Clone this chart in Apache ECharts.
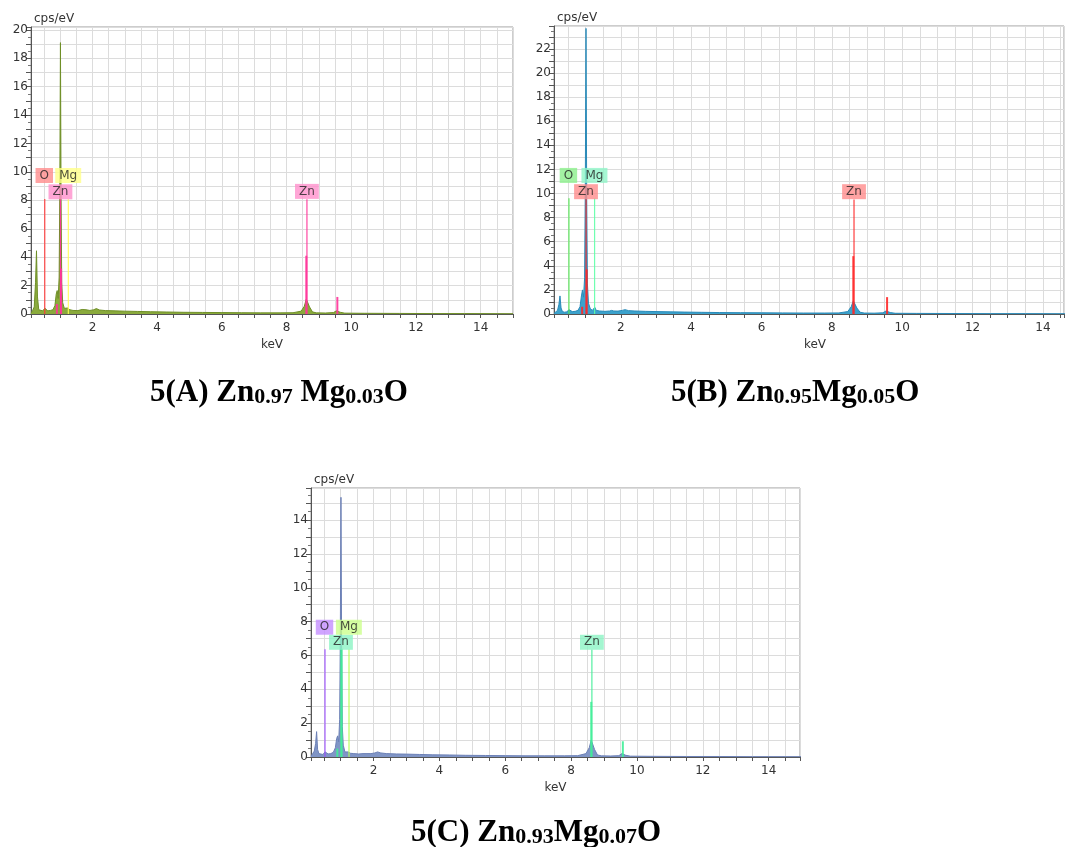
<!DOCTYPE html>
<html>
<head>
<meta charset="utf-8">
<title>EDS spectra</title>
<script src="https://cdn.jsdelivr.net/npm/echarts@6/dist/echarts.min.js"></script>
<style>
html, body { margin: 0; padding: 0; background: #fff; }
#chartmain { width: 1067px; height: 847px; }
</style>
</head>
<body>
<div id="chartmain"></div>
<script>
// energy grid shared by the three spectra (keV)
var energy = [0.10, 0.15, 0.20, 0.24, 0.27, 0.30, 0.34, 0.40, 0.46, 0.50,
	0.53, 0.56, 0.62, 0.70, 0.78, 0.84, 0.88, 0.91, 0.94, 0.97,
	0.99, 1.01, 1.03, 1.05, 1.08, 1.13, 1.19, 1.23, 1.26, 1.30,
	1.40, 1.55, 1.68, 1.74, 1.80, 1.92, 2.04, 2.12, 2.22, 2.40,
	2.70, 3.00, 3.40, 3.80, 4.30, 4.80, 5.40, 6.00, 6.60, 7.20,
	7.80, 8.20, 8.45, 8.55, 8.61, 8.65, 8.71, 8.80, 8.92, 9.20,
	9.45, 9.54, 9.59, 9.66, 9.80, 10.4, 11.5, 12.5, 13.5, 15.0];

// cps/eV
var countsA = [0.05, 0.25, 0.5, 2.2, 4.45, 1.2, 0.3, 0.2, 0.22, 0.3,
	0.4, 0.28, 0.22, 0.25, 0.3, 0.6, 1.4, 1.65, 1.1, 2.6,
	8.5, 19.1, 8.0, 2.2, 0.8, 0.4, 0.3, 0.42, 0.5, 0.3,
	0.25, 0.24, 0.32, 0.45, 0.3, 0.25, 0.3, 0.38, 0.28, 0.24,
	0.22, 0.2, 0.18, 0.16, 0.14, 0.12, 0.11, 0.1, 0.09, 0.08,
	0.08, 0.09, 0.2, 0.55, 1.05, 1.1, 0.5, 0.15, 0.08, 0.07,
	0.1, 0.22, 0.26, 0.12, 0.06, 0.05, 0.04, 0.03, 0.03, 0.02];
var countsB = [0.05, 0.2, 0.3, 0.8, 1.5, 0.5, 0.2, 0.15, 0.18, 0.25,
	0.35, 0.25, 0.2, 0.22, 0.3, 0.6, 1.5, 2.0, 1.4, 3.0,
	10.5, 23.7, 9.5, 2.5, 0.9, 0.45, 0.3, 0.45, 0.55, 0.3,
	0.25, 0.22, 0.25, 0.3, 0.25, 0.24, 0.3, 0.36, 0.28, 0.25,
	0.22, 0.2, 0.18, 0.16, 0.14, 0.12, 0.11, 0.1, 0.09, 0.08,
	0.08, 0.09, 0.2, 0.6, 1.1, 1.15, 0.5, 0.15, 0.08, 0.07,
	0.1, 0.25, 0.28, 0.12, 0.06, 0.05, 0.04, 0.03, 0.03, 0.02];
var countsC = [0.05, 0.2, 0.35, 0.8, 1.5, 0.45, 0.2, 0.15, 0.15, 0.2,
	0.3, 0.22, 0.18, 0.2, 0.28, 0.55, 1.1, 1.25, 0.9, 2.2,
	7.0, 15.35, 6.5, 1.8, 0.7, 0.3, 0.22, 0.3, 0.35, 0.22,
	0.2, 0.18, 0.2, 0.25, 0.2, 0.2, 0.24, 0.3, 0.24, 0.2,
	0.18, 0.17, 0.15, 0.13, 0.12, 0.1, 0.09, 0.08, 0.07, 0.07,
	0.07, 0.08, 0.2, 0.55, 1.0, 1.03, 0.45, 0.12, 0.07, 0.06,
	0.08, 0.2, 0.22, 0.1, 0.05, 0.04, 0.03, 0.03, 0.02, 0.02];

// element markers: O K, Zn L, Mg K, Zn K
var markerNames = ['O', 'Zn', 'Mg', 'Zn'];
var markerEnergy = [0.525, 1.012, 1.254, 8.63];
var markerLabelX = [0.51, 1.01, 1.25, 8.63];
var markerTopA = [8.1, 8.07, 8.07, 8.07];
var markerTopB = [9.6, 9.54, 9.6, 9.5];
var markerTopC = [6.37, 6.37, 6.37, 6.36];
var labelYA = [9.75, 8.6, 9.75, 8.63];
var labelYB = [11.5, 10.15, 11.5, 10.15];
var labelYC = [7.67, 6.78, 7.67, 6.78];

// fitted Zn line intensities: Zn Ll, Zn La, Zn Ka, Zn Kb
var peakEnergy = [0.90, 1.03, 8.61, 9.57];
var peakTopA = [0.7, 3.2, 4.1, 1.2];
var peakTopB = [0.6, 3.7, 4.8, 1.4];
var peakTopC = [0.5, 6.4, 3.26, 0.93];

var yMaxA = 20.2, yMaxB = 23.9, yMaxC = 15.9;
var xMaxA = 15, xMaxB = 14.6, xMaxC = 14.95;

var panels = [
	{ grid: { left: 31, top: 27, width: 482, height: 287 }, xMax: xMaxA, yMax: yMaxA,
		counts: countsA, tops: markerTopA, labelY: labelYA, peaks: peakTopA,
		fill: '#8aaa3c', edge: '#6f8f27', namePad: 0,
		colors: { O: ['#ff3535', '#ff8c8c'], Zn: ['#ff3399', '#ff90cc'], Mg: ['#ffff55', '#ffff88'] } },
	{ grid: { left: 554, top: 26, width: 512, height: 288 }, xMax: xMaxB, yMax: yMaxB,
		counts: countsB, tops: markerTopB, labelY: labelYB, peaks: peakTopB,
		fill: '#3ba2cc', edge: '#2a8ab8', namePad: 12,
		colors: { O: ['#50e850', '#8cf08c'], Zn: ['#ff2828', '#ff8c8c'], Mg: ['#60ffa8', '#90f5c8'] } },
	{ grid: { left: 311, top: 488, width: 489, height: 269 }, xMax: xMaxC, yMax: yMaxC,
		counts: countsC, tops: markerTopC, labelY: labelYC, peaks: peakTopC,
		fill: '#8095c6', edge: '#6c80b6', namePad: 0,
		colors: { O: ['#9a4cff', '#c48eff'], Zn: ['#40ee98', '#8cf4c4'], Mg: ['#b4ff50', '#ccff8c'] } }
];

function xLabel(v) {
	var r = Math.round(v);
	if (Math.abs(v - r) > 1e-6 || r % 2 !== 0 || r === 0) return '';
	return String(r);
}
function yLabel(v) {
	var r = Math.round(v);
	if (Math.abs(v - r) > 1e-6 || r % 2 !== 0) return '';
	return String(r);
}

var grids = [], xAxes = [], yAxes = [], series = [];

for (var i = 0; i < panels.length; i++) {
	var p = panels[i];
	grids.push({
		left: p.grid.left, top: p.grid.top, width: p.grid.width, height: p.grid.height,
		show: true, borderColor: '#9a9a9a', borderWidth: 1, backgroundColor: '#fff'
	});
	xAxes.push({
		gridIndex: i, type: 'value', min: 0.1, max: p.xMax, splitNumber: 30,
		name: 'keV', nameLocation: 'middle', nameGap: 25,
		nameTextStyle: { fontFamily: 'DejaVu Sans', fontSize: 12, color: '#333', padding: [0, 0, 0, p.namePad] },
		axisLine: { onZero: false, lineStyle: { color: '#555' } },
		axisTick: { show: true, inside: false, length: 4, lineStyle: { color: '#555' } },
		axisLabel: { interval: 0, margin: 8, formatter: xLabel, fontFamily: 'DejaVu Sans', fontSize: 12, color: '#333' },
		splitLine: { show: true, lineStyle: { color: '#dcdcdc', width: 1 } }
	});
	yAxes.push({
		gridIndex: i, type: 'value', min: 0, max: p.yMax, interval: 1,
		name: 'cps/eV', nameLocation: 'end', nameGap: 2,
		nameTextStyle: { fontFamily: 'DejaVu Sans', fontSize: 12, color: '#333', align: 'left', padding: [0, 0, 0, 3] },
		axisLine: { show: true, lineStyle: { color: '#555' } },
		axisTick: { show: true, length: 5, lineStyle: { color: '#555' } },
		minorTick: { show: true, splitNumber: 2, length: 3, lineStyle: { color: '#777' } },
		axisLabel: { interval: 0, margin: 3, formatter: yLabel, fontFamily: 'DejaVu Sans', fontSize: 12, color: '#333' },
		splitLine: { show: true, lineStyle: { color: '#dcdcdc', width: 1 } }
	});

	var spec = [];
	for (var k = 0; k < energy.length; k++) {
		spec.push([energy[k], p.counts[k]]);
	}
	series.push({
		type: 'line', xAxisIndex: i, yAxisIndex: i, data: spec, symbol: 'none',
		lineStyle: { color: p.edge, width: 1 },
		areaStyle: { color: p.fill, opacity: 1 },
		z: 2, silent: true
	});

	// marker lines up to the element labels
	for (var m = 0; m < markerNames.length; m++) {
		var c = p.colors[markerNames[m]];
		series.push({
			type: 'line', xAxisIndex: i, yAxisIndex: i, symbol: 'none',
			data: [[markerEnergy[m], 0], [markerEnergy[m], p.tops[m]]],
			lineStyle: { color: c[0], width: 1.2, opacity: 0.9 },
			z: 3, silent: true
		});
		series.push({
			type: 'scatter', xAxisIndex: i, yAxisIndex: i, symbolSize: 1,
			itemStyle: { color: 'transparent' },
			data: [[markerLabelX[m], p.labelY[m]]],
			label: {
				show: true, position: 'inside', formatter: markerNames[m],
				backgroundColor: c[1], padding: [2, 4, 1, 4],
				fontFamily: 'DejaVu Sans', fontSize: 12, color: '#222'
			},
			z: 5, silent: true
		});
	}
	// Zn fitted line heights
	var zc = p.colors.Zn[0];
	for (var n = 0; n < peakEnergy.length; n++) {
		series.push({
			type: 'line', xAxisIndex: i, yAxisIndex: i, symbol: 'none',
			data: [[peakEnergy[n], 0], [peakEnergy[n], p.peaks[n]]],
			lineStyle: { color: zc, width: 2, opacity: 0.9 },
			z: 4, silent: true
		});
	}
}

var capMain = { fontFamily: 'Liberation Serif', fontWeight: 'bold', fontSize: 31, lineHeight: 30, color: '#000' };
var capSub = { fontFamily: 'Liberation Serif', fontWeight: 'bold', fontSize: 22, lineHeight: 17, verticalAlign: 'bottom', color: '#000' };

var option = {
	animation: false,
	backgroundColor: '#fff',
	title: [
		{ text: '{m|5(A) Zn}{s|0.97}{m| Mg}{s|0.03}{m|O}', left: 150, top: 378, padding: 0, textStyle: { rich: { m: capMain, s: capSub } } },
		{ text: '{m|5(B) Zn}{s|0.95}{m|Mg}{s|0.05}{m|O}', left: 671, top: 378, padding: 0, textStyle: { rich: { m: capMain, s: capSub } } },
		{ text: '{m|5(C) Zn}{s|0.93}{m|Mg}{s|0.07}{m|O}', left: 411, top: 818, padding: 0, textStyle: { rich: { m: capMain, s: capSub } } }
	],
	grid: grids,
	xAxis: xAxes,
	yAxis: yAxes,
	series: series
};

var myChart = echarts.init(document.getElementById('chartmain'));
myChart.setOption(option);
</script>
</body>
</html>
